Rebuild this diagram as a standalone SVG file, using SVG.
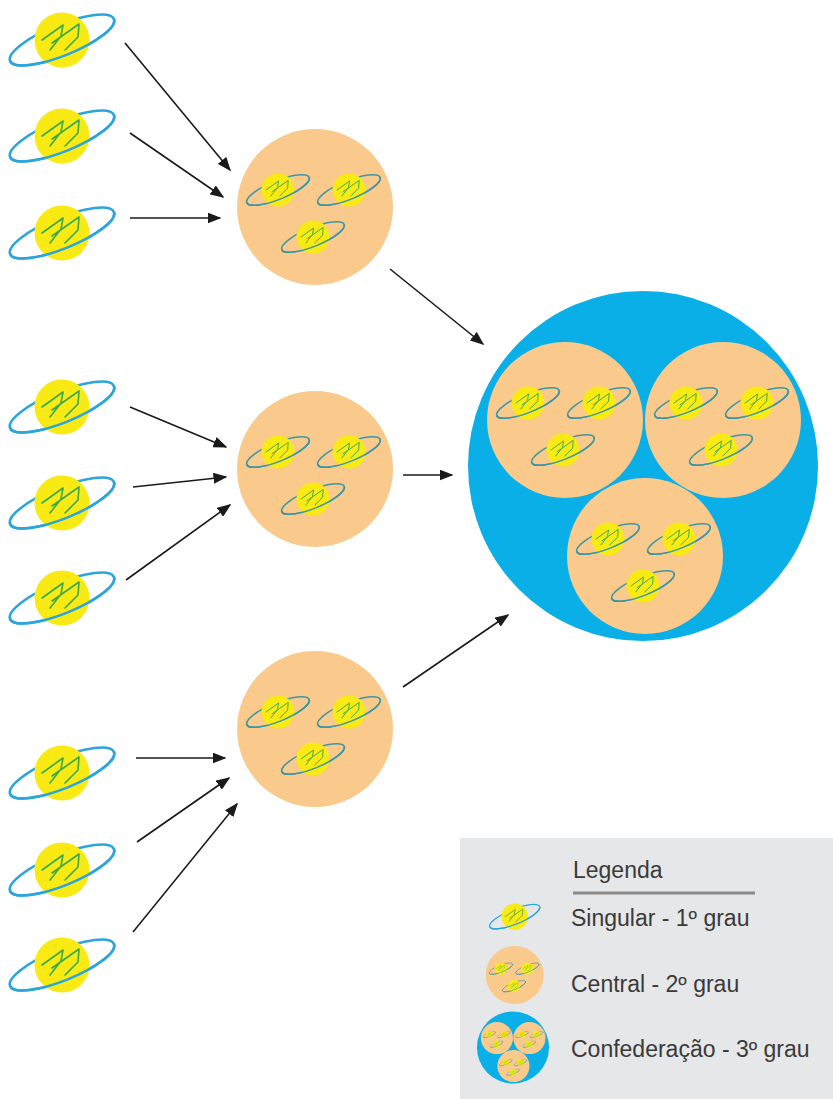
<svg xmlns="http://www.w3.org/2000/svg" xmlns:xlink="http://www.w3.org/1999/xlink" width="833" height="1099" viewBox="0 0 833 1099">
<style>
.conn line{stroke:#1a1a1a;stroke-width:1.6;fill:none;marker-end:url(#ah)}
.lbl{font-family:"Liberation Sans",Arial,sans-serif;font-size:23px;fill:#3a3a3a}
.orb{fill:none;stroke:currentColor;stroke-width:2.6}
</style>
<defs>
<marker id="ah" markerUnits="userSpaceOnUse" markerWidth="14" markerHeight="11" refX="12.5" refY="5.5" orient="auto"><path d="M0,0 L14,5.5 L0,11 z" fill="#1a1a1a"/></marker>
<g id="sing">
<ellipse class="orb" rx="56" ry="15.5" transform="rotate(-22)"/>
<circle r="27.5" fill="#f8ea12"/>
<path class="orb" d="M-56,0 A56 15.5 0 0 0 56 0" transform="rotate(-22)"/>
<path d="M-20,0 L1,-15 L-1,-4 L-12,10 M-10,3 L17,-16 L16,-3 L3,10" fill="none" stroke="#3aa94a" stroke-width="1.6" stroke-linejoin="round" stroke-linecap="round"/>
</g>
<g id="cent">
<circle r="78" fill="#f9ca8b"/>
<use xlink:href="#sing" transform="translate(-37,-17) scale(0.6)" color="#3c97a5"/>
<use xlink:href="#sing" transform="translate(34,-17) scale(0.6)" color="#3c97a5"/>
<use xlink:href="#sing" transform="translate(-2,30) scale(0.6)" color="#3c97a5"/>
</g>
<g id="conf">
<circle r="175" fill="#0aafe8"/>
<use xlink:href="#cent" transform="translate(-78,-46)"/>
<use xlink:href="#cent" transform="translate(80,-46)"/>
<use xlink:href="#cent" transform="translate(2,90)"/>
</g>
</defs>
<rect width="833" height="1099" fill="#ffffff"/>
<g id="connectors" class="conn">
<line x1="125" y1="43" x2="230" y2="170"/>
<line x1="130" y1="133" x2="223" y2="197"/>
<line x1="130" y1="218" x2="220" y2="218"/>
<line x1="390" y1="269" x2="483" y2="344"/>
<line x1="130" y1="407" x2="226" y2="447"/>
<line x1="133" y1="487" x2="226" y2="477"/>
<line x1="126" y1="580" x2="230" y2="505"/>
<line x1="403" y1="475" x2="452" y2="475"/>
<line x1="136" y1="758" x2="225" y2="758"/>
<line x1="137" y1="842" x2="229" y2="778"/>
<line x1="133" y1="932" x2="237" y2="804"/>
<line x1="403" y1="687" x2="508" y2="615"/>
</g>
<g id="singular-1"><use xlink:href="#sing" transform="translate(62,40)" color="#2aa5de"/></g>
<g id="singular-2"><use xlink:href="#sing" transform="translate(62,136)" color="#2aa5de"/></g>
<g id="singular-3"><use xlink:href="#sing" transform="translate(62,233)" color="#2aa5de"/></g>
<g id="singular-4"><use xlink:href="#sing" transform="translate(62,407)" color="#2aa5de"/></g>
<g id="singular-5"><use xlink:href="#sing" transform="translate(62,503)" color="#2aa5de"/></g>
<g id="singular-6"><use xlink:href="#sing" transform="translate(62,598)" color="#2aa5de"/></g>
<g id="singular-7"><use xlink:href="#sing" transform="translate(62,773)" color="#2aa5de"/></g>
<g id="singular-8"><use xlink:href="#sing" transform="translate(62,870)" color="#2aa5de"/></g>
<g id="singular-9"><use xlink:href="#sing" transform="translate(62,965)" color="#2aa5de"/></g>
<g id="central-1"><use xlink:href="#cent" transform="translate(315,207)"/></g>
<g id="central-2"><use xlink:href="#cent" transform="translate(315,469)"/></g>
<g id="central-3"><use xlink:href="#cent" transform="translate(315,729)"/></g>
<g id="confederacao"><use xlink:href="#conf" transform="translate(643,466)"/></g>
<g id="legend">
<rect x="460" y="838" width="373" height="261" fill="#e6e7e8"/>
<text class="lbl" x="573" y="878">Legenda</text>
<line x1="573" y1="893" x2="755" y2="893" stroke="#8a8a8a" stroke-width="3"/>
<use xlink:href="#sing" transform="translate(514.7,916.7) scale(0.48)" color="#2aa5de"/>
<text class="lbl" x="571" y="926">Singular - 1º grau</text>
<use xlink:href="#cent" transform="translate(514.7,975) scale(0.372)"/>
<text class="lbl" x="571" y="992">Central - 2º grau</text>
<use xlink:href="#conf" transform="translate(513,1047.5) scale(0.206)"/>
<text class="lbl" x="571" y="1057">Confederação - 3º grau</text>
</g>
</svg>
